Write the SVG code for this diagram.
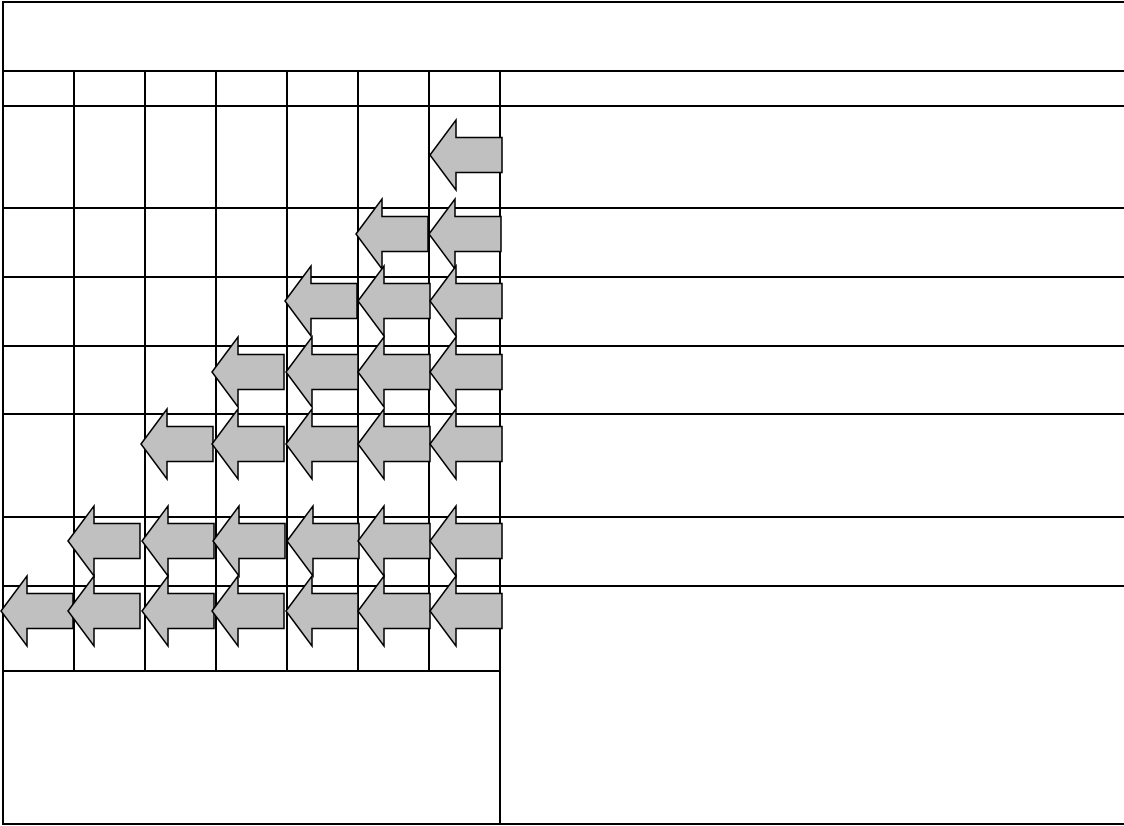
<svg xmlns="http://www.w3.org/2000/svg" xmlns:xlink="http://www.w3.org/1999/xlink" width="1124" height="826" viewBox="0 0 1124 826">
<style>
.g{stroke:#000;stroke-width:2;fill:none}
.a{fill:#C0C0C0;stroke:#000;stroke-width:1.5;stroke-linejoin:miter}
</style>
<defs>
<path id="arrow" class="a" d="M0,0 L26,-35 L26,-17.5 L72,-17.5 L72,17.5 L26,17.5 L26,35 Z"/>
</defs>
<rect width="1124" height="826" fill="#fff"/>
<g id="grid" class="g">
<path d="M3,2 H1124 M3,71 H1124 M3,106 H1124 M3,208 H1124 M3,277 H1124 M3,346 H1124 M3,414 H1124 M3,517 H1124 M3,586 H1124 M3,671 H500 M3,824 H1124"/>
<path d="M3,1 V825 M500,71 V825 M74,71 V671 M145,71 V671 M216,71 V671 M287,71 V671 M358,71 V671 M429,71 V671"/>
</g>
<g id="connectors">
<g id="row1"><use href="#arrow" x="430" y="155"/></g>
<g id="row2"><use href="#arrow" x="356" y="234"/><use href="#arrow" x="429" y="234"/></g>
<g id="row3"><use href="#arrow" x="285" y="301"/><use href="#arrow" x="358" y="301"/><use href="#arrow" x="430" y="301"/></g>
<g id="row4"><use href="#arrow" x="212" y="372"/><use href="#arrow" x="286" y="372"/><use href="#arrow" x="358" y="372"/><use href="#arrow" x="430" y="372"/></g>
<g id="row5"><use href="#arrow" x="141" y="444"/><use href="#arrow" x="212" y="444"/><use href="#arrow" x="286" y="444"/><use href="#arrow" x="358" y="444"/><use href="#arrow" x="430" y="444"/></g>
<g id="row6"><use href="#arrow" x="68" y="541"/><use href="#arrow" x="142" y="541"/><use href="#arrow" x="213" y="541"/><use href="#arrow" x="287" y="541"/><use href="#arrow" x="358" y="541"/><use href="#arrow" x="430" y="541"/></g>
<g id="row7"><use href="#arrow" x="1" y="611"/><use href="#arrow" x="68" y="611"/><use href="#arrow" x="142" y="611"/><use href="#arrow" x="212" y="611"/><use href="#arrow" x="286" y="611"/><use href="#arrow" x="358" y="611"/><use href="#arrow" x="430" y="611"/></g>
</g>
</svg>
